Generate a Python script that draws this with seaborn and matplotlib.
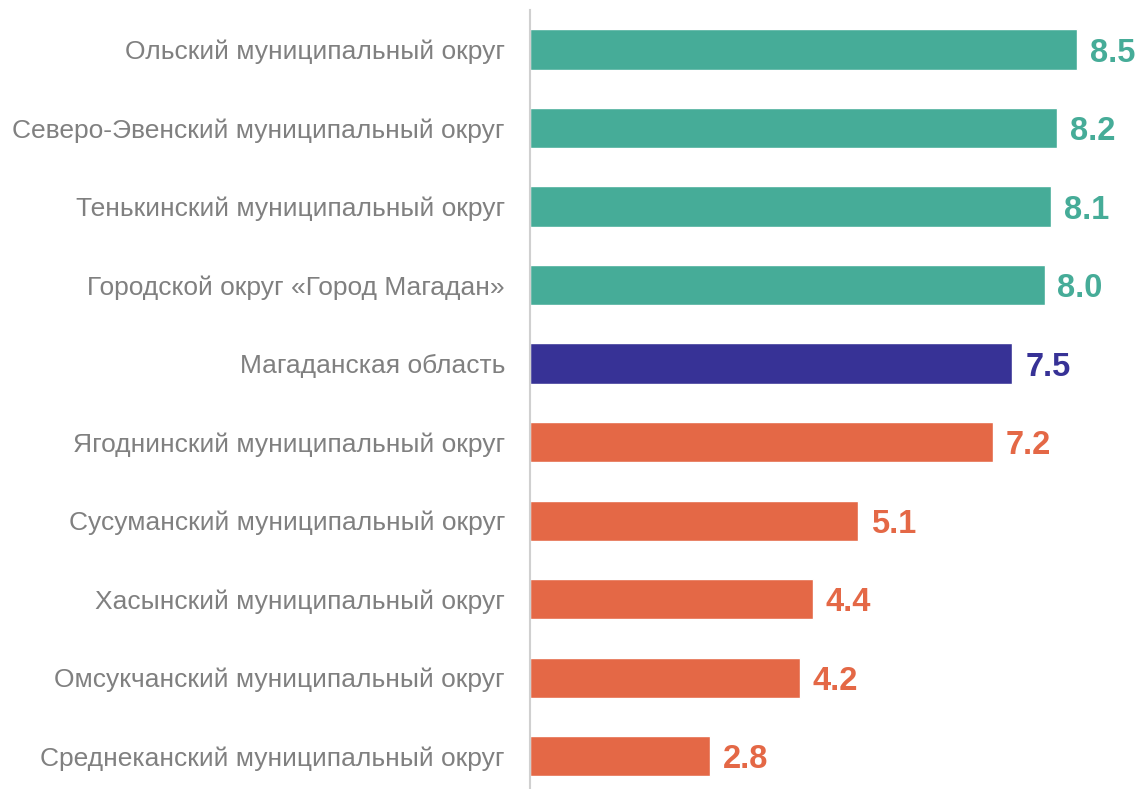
import matplotlib
matplotlib.use("Agg")
import matplotlib.pyplot as plt
import seaborn as sns

# data
districts = [
    "Ольский муниципальный округ",
    "Северо-Эвенский муниципальный округ",
    "Тенькинский муниципальный округ",
    "Городской округ «Город Магадан»",
    "Магаданская область",
    "Ягоднинский муниципальный округ",
    "Сусуманский муниципальный округ",
    "Хасынский муниципальный округ",
    "Омсукчанский муниципальный округ",
    "Среднеканский муниципальный округ",
]
values = [8.5, 8.2, 8.1, 8.0, 7.5, 7.2, 5.1, 4.4, 4.2, 2.8]
groups = ["above", "above", "above", "above", "region",
          "below", "below", "below", "below", "below"]

group_colors = {"above": "#46AC98", "region": "#373296", "below": "#E46846"}
bar_colors = [group_colors[g] for g in groups]

sns.set_style("white")
plt.rcParams["font.family"] = ["Liberation Sans", "DejaVu Sans"]

fig = plt.figure(figsize=(11.41, 7.89), dpi=100)
ax = fig.add_axes([0.4645, 0.0, 0.5355, 0.987])

sns.barplot(x=values, y=districts, hue=districts, palette=bar_colors,
            legend=False, width=0.51, saturation=1, ax=ax)

ax.set_xlim(0, 9.5)
ax.set_ylim(9.42, -0.5)

for i, (v, c) in enumerate(zip(values, bar_colors)):
    ax.text(v + 0.2, i, f"{v:.1f}", va="center_baseline", ha="left",
            fontsize=23.5, fontweight="bold", color=c)

sns.despine(ax=ax, left=False, bottom=True, top=True, right=True)
ax.spines["left"].set_color("#D0D0D0")
ax.spines["left"].set_linewidth(1.5)
ax.set_xticks([])
ax.tick_params(axis="y", length=0, pad=18, labelsize=19, labelcolor="#808080")
ax.set_xlabel("")
ax.set_ylabel("")

fig.savefig("out.png", dpi=100)
